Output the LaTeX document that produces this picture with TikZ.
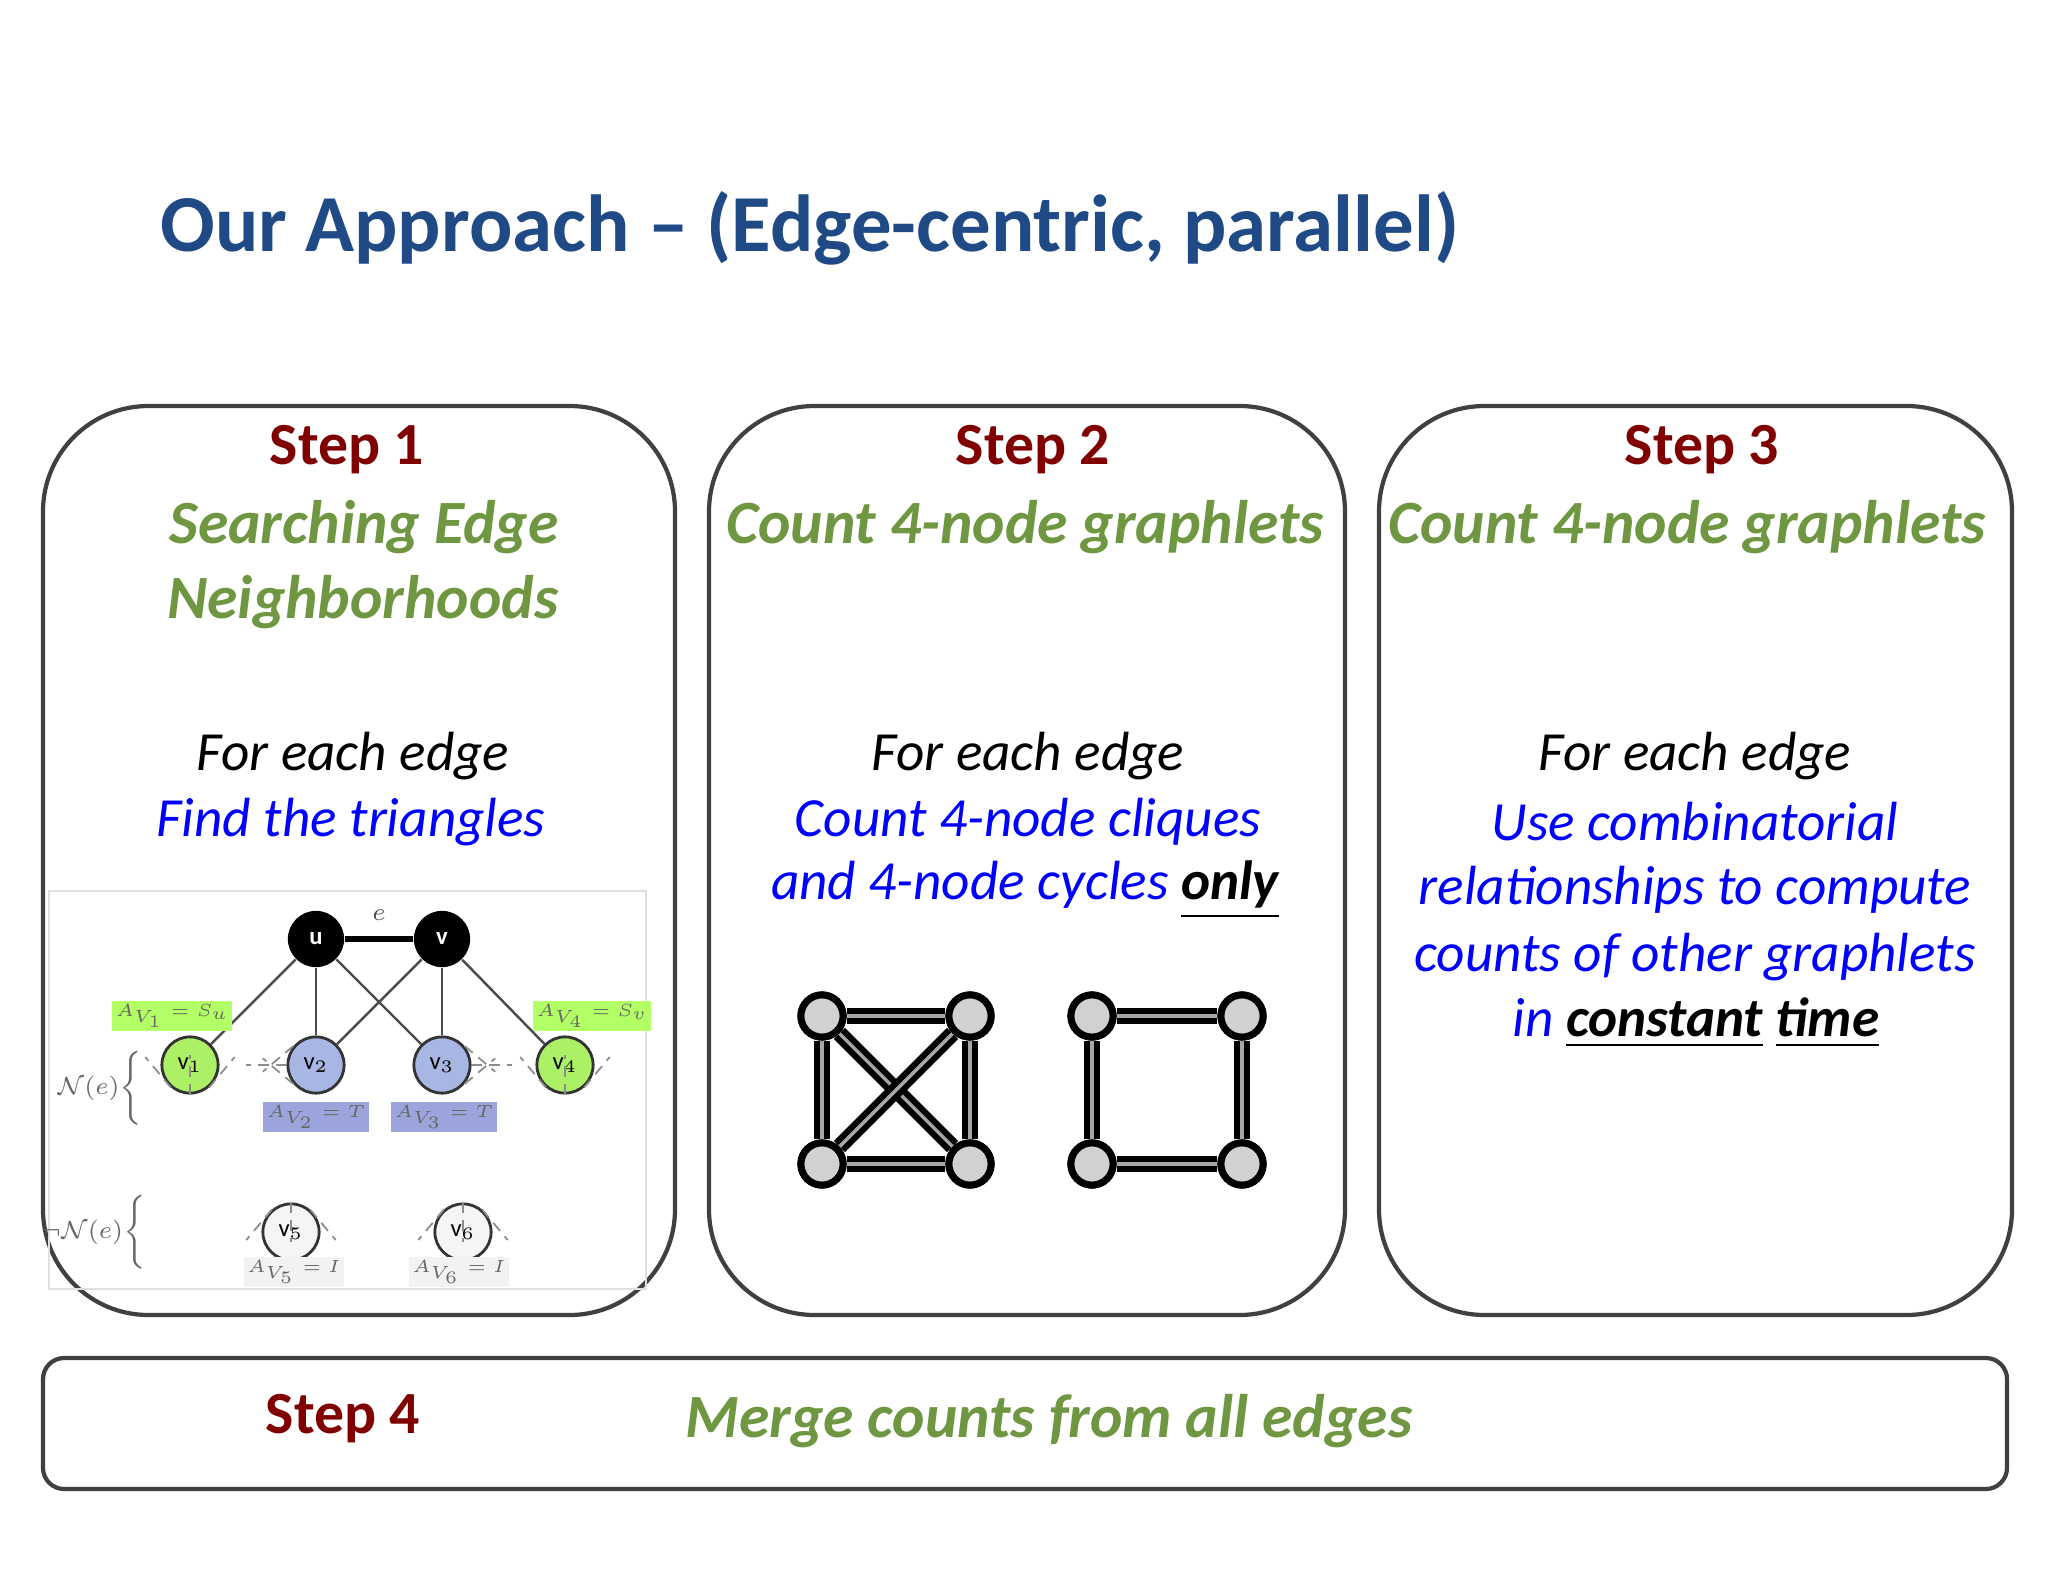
\documentclass[tikz,border=0pt]{standalone}
\usepackage{fontspec}
\setmainfont{Carlito}
\setsansfont{Carlito}
\usepackage{amssymb}
\definecolor{grnc}{HTML}{6F9640}
\definecolor{titc}{HTML}{1F4A86}
\begin{document}
\begin{tikzpicture}[x=0.01cm,y=-0.01cm,
  bx/.style={draw=black!75,line width=1.2pt,rounded corners=30pt},
  steptxt/.style={font=\fontsize{17}{20}\selectfont\bfseries,text=red!50!black},
  grn/.style={font=\fontsize{17.5}{21}\selectfont\bfseries\itshape,text=grnc,align=center},
  blk/.style={font=\fontsize{15.7}{19}\selectfont\itshape,text=black},
  blu/.style={font=\fontsize{15.7}{19}\selectfont\itshape,text=blue},
  gn/.style={circle,draw=black,line width=2pt,fill=black!18,minimum size=12pt,inner sep=0pt},
  ge/.style={line width=4.5pt,black},
  gi/.style={line width=1pt,black!35},
  bn/.style={circle,fill=black,text=white,minimum size=16pt,inner sep=0pt,font=\sffamily\bfseries\scriptsize},
  cn/.style={circle,draw=black!80,line width=0.8pt,minimum size=16pt,inner sep=0pt,font=\sffamily\scriptsize},
  dsh/.style={densely dashed,black!45,line width=0.5pt},
  lab/.style={inner sep=1pt,font=\tiny}]
\useasboundingbox (0,0) rectangle (2048,1582);
\fill[white] (0,0) rectangle (2048,1582);
\node[anchor=west,font=\fontsize{23}{28}\selectfont\bfseries,text=titc] (title) at (148,228) {Our Approach -- (Edge-centric, parallel)};
% boxes
\draw[bx] (43,406) rectangle (675,1315);
\draw[bx] (709,406) rectangle (1345,1315);
\draw[bx] (1379,406) rectangle (2012,1315);
\draw[bx,rounded corners=6pt] (43,1358) rectangle (2007,1489);
% step 1
\node[steptxt] (s1) at (347,450) {Step 1};
\node[grn] (g1) at (364,527) {Searching Edge};
\node[grn] (g1b) at (363,602) {Neighborhoods};
\node[blk] (f1) at (353,756) {For each edge};
\node[blu] (b1) at (351,822) {Find the triangles};
% step 2
\node[steptxt] (s2) at (1033,450) {Step 2};
\node[grn] (g2) at (1025,527) {Count 4-node graphlets};
\node[blk] (f2) at (1028,756) {For each edge};
\node[blu] (b2) at (1028,822) {Count 4-node cliques};
\node[blu] (b2b) at (1025,890) {and 4-node cycles \textcolor{black}{\bfseries\underline{only}}};
% step 3
\node[steptxt] (s3) at (1702,450) {Step 3};
\node[grn] (g3) at (1687,527) {Count 4-node graphlets};
\node[blk] (f3) at (1695,756) {For each edge};
\node[blu] (b3) at (1695,822) {Use combinatorial};
\node[blu] (b3b) at (1695,890) {relationships to compute};
\node[blu] (b3c) at (1695,957) {counts of other graphlets};
\node[blu] (b3d) at (1696,1023) {in \textcolor{black}{\bfseries\underline{constant}\ \underline{time}}};
% step 4
\node[steptxt] (s4) at (343,1419) {Step 4};
\node[grn] (g4) at (1049,1421) {Merge counts from all edges};
% clique and cycle
\node[gn] (c1) at (822,1016) {};
\node[gn] (c2) at (970,1016) {};
\node[gn] (c3) at (822,1164) {};
\node[gn] (c4) at (970,1164) {};
\node[gn] (d1) at (1092,1016) {};
\node[gn] (d2) at (1242,1016) {};
\node[gn] (d3) at (1092,1164) {};
\node[gn] (d4) at (1242,1164) {};
\foreach \a/\b in {c1/c2,c2/c4,c4/c3,c3/c1,c1/c4,c2/c3,d1/d2,d2/d4,d4/d3,d3/d1}{
  \draw[ge] (\a) -- (\b); \draw[gi] (\a) -- (\b);}
\foreach \n in {c1,c2,c3,c4,d1,d2,d3,d4}{\node[gn] at (\n) {};}
% step 1 image
\draw[black!12,line width=0.6pt] (49,891) rectangle (646,1289);
\node[bn] (u) at (316,939) {u};
\node[bn] (v) at (442,939) {v};
\node[cn,fill=green!55!yellow!80!olive!60] (v1) at (190,1065) {v$_1$};
\node[cn,fill=cyan!40!blue!35] (v2) at (316,1065) {v$_2$};
\node[cn,fill=cyan!40!blue!35] (v3) at (442,1065) {v$_3$};
\node[cn,fill=green!55!yellow!80!olive!60] (v4) at (565,1065) {v$_4$};
\node[cn,fill=black!4] (v5) at (291,1232) {v$_5$};
\node[cn,fill=black!4] (v6) at (463,1232) {v$_6$};
\draw[line width=1.6pt] (u) -- node[above=1pt,font=\scriptsize\itshape,text=black!70] (e) {$e$} (v);
\foreach \a/\b in {u/v1,u/v2,u/v3,v/v2,v/v3,v/v4}{\draw[black!70,line width=0.7pt] (\a) -- (\b);}
\foreach \n in {v1,v4}{\foreach \ang in {-50,-90,-130}{\draw[dsh] (\n.\ang) -- ++(\ang:40);}}
\foreach \ang in {140,180,220}{\draw[dsh] (v2.\ang) -- ++(\ang:40);}
\foreach \ang in {40,0,-40}{\draw[dsh] (v3.\ang) -- ++(\ang:40);}
\foreach \n in {v5,v6}{\foreach \ang in {50,90,130}{\draw[dsh] (\n.\ang) -- ++(\ang:40);}}
\node[lab,fill=green!50!yellow!60,text=black!60] (l1) at (172,1016) {$A_{V_1}=S_u$};
\node[lab,fill=green!50!yellow!60,text=black!60] (l4) at (592,1016) {$A_{V_4}=S_v$};
\node[lab,fill=cyan!30!blue!40,text=black!60] (l2) at (316,1117) {$A_{V_2}=T$};
\node[lab,fill=cyan!30!blue!40,text=black!60] (l3) at (444,1117) {$A_{V_3}=T$};
\node[lab,fill=black!5,text=black!60] (l5) at (294,1272) {$A_{V_5}=I$};
\node[lab,fill=black!5,text=black!60] (l6) at (459,1272) {$A_{V_6}=I$};
\node[font=\scriptsize,text=black!60] (ne) at (100,1088) {$\mathcal{N}(e)\Big\{$};
\node[font=\scriptsize,text=black!60] (nne) at (94,1232) {$\neg\mathcal{N}(e)\Big\{$};
\end{tikzpicture}
\end{document}
